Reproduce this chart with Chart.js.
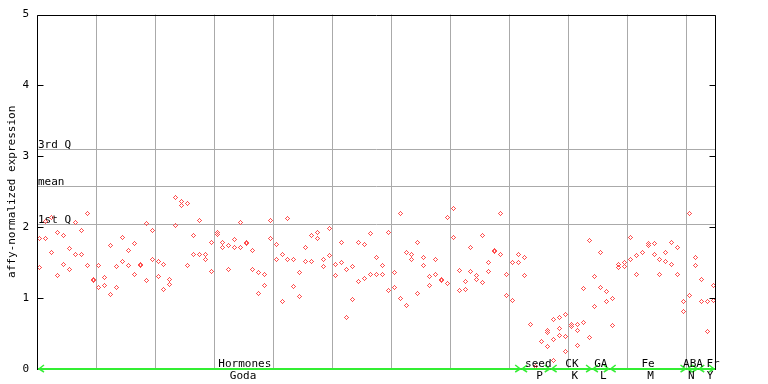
<!DOCTYPE html>
<html>
<head>
<meta charset="utf-8">
<script src="https://cdn.jsdelivr.net/npm/chart.js@4.4.0/dist/chart.umd.min.js"></script>
<style>
    html, body { margin: 0; padding: 0; background: #fff; }
</style>
</head>
<body>
<canvas id="myChart" width="768" height="384"></canvas>
<script>
// sample values, two replicates per sample (index = sample position)
const repA = [1.84, 1.84, 2.14, 1.93, 1.89, 1.70, 2.06, 1.95, 2.19, 1.25,
    1.46, 1.29, 1.74, 1.44, 1.86, 1.67, 1.77, 1.47, 2.05, 1.95,
    1.51, 1.47, 1.26, 2.42, 2.36, 2.34, 1.88, 2.09, 1.61, 1.79,
    1.92, 1.78, 1.74, 1.82, 2.07, 1.79, 1.67, 1.36, 1.33, 2.09,
    1.75, 1.61, 2.13, 1.55, 1.36, 1.71, 1.89, 1.92, 1.54, 1.98,
    1.48, 1.78, 1.41, 1.44, 1.78, 1.75, 1.91, 1.58, 1.46, 1.93,
    1.36, 2.20, 1.65, 1.61, 1.78, 1.58, 1.30, 1.54, 1.26, 2.14,
    2.27, 1.39, 1.23, 1.71, 1.32, 1.88, 1.50, 1.67, 2.20, 1.33,
    1.50, 1.61, 1.57, 0.63, 0.04, 0.39, 0.52, 0.70, 0.73, 0.77,
    0.63, 0.63, 1.13, 1.81, 1.30, 1.65, 1.09, 0.99, 1.48, 1.50,
    1.85, 1.60, 1.64, 1.77, 1.77, 1.55, 1.64, 1.78, 1.71, 0.95,
    2.20, 1.58, 1.26, 0.95, 1.18];
const repB = [1.43, 2.08, 1.65, 1.32, 1.47, 1.41, 1.61, 1.61, 1.46, 1.265,
    1.15, 1.18, 1.05, 1.15, 1.51, 1.46, 1.33, 1.455, 1.25, 1.54,
    1.30, 1.12, 1.19, 2.03, 2.31, 1.46, 1.61, 1.61, 1.54, 1.37,
    1.90, 1.72, 1.40, 1.71, 1.71, 1.775, 1.41, 1.06, 1.18, 1.84,
    1.54, 0.95, 1.54, 1.16, 1.02, 1.51, 1.51, 1.84, 1.44, 1.60,
    1.32, 1.50, 0.73, 0.98, 1.23, 1.27, 1.33, 1.34, 1.33, 1.11,
    1.15, 0.99, 0.89, 1.54, 1.06, 1.46, 1.18, 1.34, 1.245, 1.20,
    1.86, 1.11, 1.12, 1.37, 1.26, 1.22, 1.37, 1.655, 1.61, 1.04,
    0.96, 1.50, 1.32, null, null, null, 0.32, 0.42, 0.57, 0.46,
    0.60, 0.54, 0.66, 0.45, 0.88, 1.15, 0.95, 0.61, 1.43, 1.44,
    1.54, 1.33, null, 1.74, 1.61, 1.33, 1.51, 1.48, 1.33, 0.81,
    1.04, 1.46, 0.95, 0.53, 0.96];
// a few samples have a third replicate
const extraIdx = [86, 87, 88, 89, 91];
const extraVal = [0.54, 0.12, 0.47, 0.25, 0.33];

// reference lines
const qValues = [2.04, 2.58, 3.10];
const qLabels = ['1st Q', 'mean', '3rd Q'];

// experiment groups along the x axis
const groups = ['Hormones', 'seed', 'CK', 'GA', 'Fe', 'ABA', 'Fr'];
const groupSub = ['Goda', 'P', 'K', 'L', 'M', 'N', 'Y'];
const groupStart = [0, 82, 87, 94, 97, 110, 112];
const groupEnd = [81, 86, 93, 96, 109, 111, 114];

// where the group names sit (in sample units)
const labelAt = [34.7, 84.4, 90.1, 95.0, 103.0, 110.6, 114.0];
const subAt = [34.4, 84.6, 90.6, 95.4, 103.4, 110.3, 113.5];

const FONT = '11px "DejaVu Sans Mono", monospace';
const RED = 'rgb(255,80,80)';
const GREEN = '#33ee33';

// small checkered diamond like the original bitmap marker
function makeDot() {
    const c = document.createElement('canvas');
    c.width = 5; c.height = 5;
    const g = c.getContext('2d');
    g.fillStyle = RED;
    for (let dx = -2; dx <= 2; dx++) {
        for (let dy = -2; dy <= 2; dy++) {
            if (Math.abs(dx) + Math.abs(dy) === 2) g.fillRect(dx + 2, dy + 2, 1, 1);
        }
    }
    return c;
}
const dot = makeDot();

const toPts = arr => arr.map((v, i) => ({ x: i, y: v })).filter(p => p.y !== null);

const overlay = {
    id: 'overlay',
    beforeDatasetsDraw(chart) {
        const { ctx, chartArea: a, scales: { y } } = chart;
        ctx.save();
        ctx.strokeStyle = '#aaaaaa';
        ctx.lineWidth = 1;
        ctx.font = FONT;
        ctx.fillStyle = '#000';
        qValues.forEach((v, i) => {
            const py = Math.round(y.getPixelForValue(v)) + 0.5;
            ctx.beginPath();
            ctx.moveTo(a.left, py);
            ctx.lineTo(a.right, py);
            ctx.stroke();
            ctx.fillText(qLabels[i], a.left + 1, py - 2);
        });
        ctx.restore();
        ctx.imageSmoothingEnabled = false;
    },
    afterDatasetsDraw(chart) {
        const { ctx, chartArea: a, scales: { x, y } } = chart;
        ctx.save();
        ctx.strokeStyle = '#000';
        ctx.lineWidth = 1;
        const L = Math.round(a.left) + 0.5, R = Math.round(a.right) - 0.5;
        const T = Math.round(a.top) + 0.5, B = Math.round(a.bottom) - 0.5;
        ctx.beginPath();
        ctx.moveTo(L, B); ctx.lineTo(L, T); ctx.lineTo(R, T); ctx.lineTo(R, B + 1);
        ctx.stroke();
        // tick marks on both sides, pointing inward
        for (let v = 0; v <= 5; v++) {
            const py = Math.round(y.getPixelForValue(v)) + 0.5;
            ctx.beginPath();
            ctx.moveTo(L, py); ctx.lineTo(L + 6, py);
            ctx.moveTo(R, py); ctx.lineTo(R - 6, py);
            ctx.stroke();
        }
        // bottom axis: black base, green group ranges with arrow heads
        ctx.fillStyle = '#000';
        ctx.fillRect(a.left, Math.round(a.bottom) - 1, a.right - a.left, 2);
        ctx.strokeStyle = GREEN;
        ctx.fillStyle = GREEN;
        ctx.lineWidth = 1.5;
        groups.forEach((g, i) => {
            const x0 = Math.max(a.left + 1, x.getPixelForValue(groupStart[i]) - 3);
            const x1 = Math.min(a.right - 1, x.getPixelForValue(groupEnd[i]) + 3);
            const yy = Math.round(a.bottom) - 1;
            ctx.fillRect(x0, yy, x1 - x0, 2);
            ctx.beginPath();
            ctx.moveTo(x0 + 6, yy - 3); ctx.lineTo(x0 + 1, yy + 1); ctx.lineTo(x0 + 6, yy + 4);
            ctx.moveTo(x1 - 6, yy - 3); ctx.lineTo(x1 - 1, yy + 1); ctx.lineTo(x1 - 6, yy + 4);
            ctx.stroke();
        });
        ctx.restore();
    },
    afterDraw(chart) {
        const { ctx, chartArea: a, scales: { x } } = chart;
        ctx.save();
        ctx.font = FONT;
        ctx.fillStyle = '#000';
        ctx.textAlign = 'center';
        groups.forEach((g, i) => {
            ctx.fillText(g, x.getPixelForValue(labelAt[i]), a.bottom - 2);
            ctx.fillText(groupSub[i], x.getPixelForValue(subAt[i]), a.bottom + 10);
        });
        ctx.translate(12, (a.top + a.bottom) / 2);
        ctx.rotate(-Math.PI / 2);
        ctx.textBaseline = 'middle';
        ctx.fillText('affy-normalized expression', 0, 0);
        ctx.restore();
    }
};

const ds = (data) => ({
    data: data,
    showLine: false,
    pointStyle: dot,
    pointRadius: 3,
    pointHoverRadius: 3,
    backgroundColor: RED,
    borderColor: RED
});

const config = {
    type: 'scatter',
    data: {
        datasets: [
            ds(toPts(repA)),
            ds(toPts(repB)),
            ds(extraIdx.map((idx, k) => ({ x: idx, y: extraVal[k] })))
        ]
    },
    options: {
        responsive: false,
        animation: false,
        events: [],
        layout: { padding: { top: 13, right: 52, left: 0, bottom: 0 } },
        plugins: {
            legend: { display: false },
            tooltip: { enabled: false }
        },
        scales: {
            x: {
                type: 'linear',
                min: -0.5,
                max: 114.5,
                afterBuildTicks: s => {
                    s.ticks = [9.5, 19.5, 29.5, 39.5, 49.5, 59.5, 69.5, 79.5, 89.5, 99.5, 109.5].map(v => ({ value: v }));
                },
                afterFit: s => { s.height = 15; },
                ticks: { display: false },
                grid: { color: '#aaaaaa', lineWidth: 1, drawTicks: false },
                border: { display: false }
            },
            y: {
                min: 0,
                max: 5,
                afterFit: s => { s.width = 37; },
                ticks: {
                    stepSize: 1,
                    color: '#000',
                    padding: 8,
                    font: { family: '"DejaVu Sans Mono", monospace', size: 11 }
                },
                grid: { display: false, drawTicks: false },
                border: { display: false }
            }
        }
    },
    plugins: [overlay]
};

const myChart = new Chart(document.getElementById('myChart'), config);
</script>
</body>
</html>
